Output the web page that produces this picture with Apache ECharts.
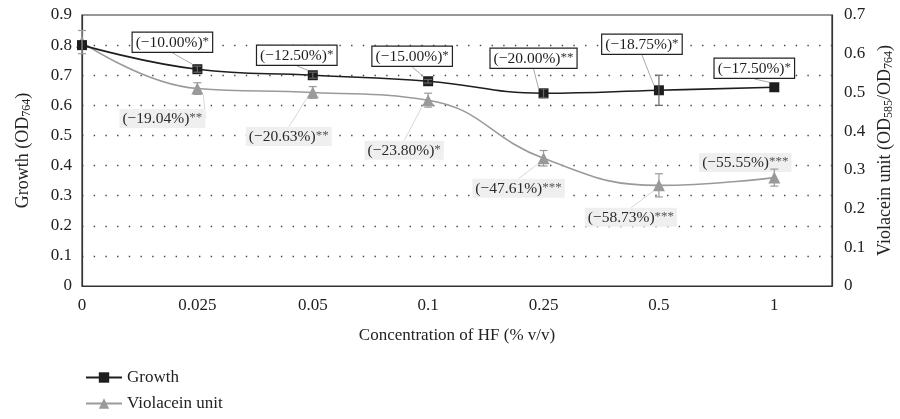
<!DOCTYPE html>
<html>
<head>
<meta charset="utf-8">
<script src="https://cdn.jsdelivr.net/npm/echarts@6/dist/echarts.min.js"></script>
<style>
  html, body { margin: 0; padding: 0; background: #fff; }
  #chart { width: 900px; height: 419px; }
</style>
</head>
<body>
<div id="chart"></div>
<script>
// HF concentration (% v/v)
const categories = ['0', '0.025', '0.05', '0.1', '0.25', '0.5', '1'];

// Growth (OD764), left axis
const growth = [0.80, 0.72, 0.70, 0.68, 0.64, 0.65, 0.66];
const growthErr = [0.0, 0.01, 0.01, 0.006, 0.015, 0.05, 0.0];
const growthPct = ['', '(\u221210.00%)', '(\u221212.50%)', '(\u221215.00%)', '(\u221220.00%)', '(\u221218.75%)', '(\u221217.50%)'];
const growthSig = ['', '*', '*', '*', '**', '*', '*'];

// Violacein unit (OD585/OD764), right axis
const violacein = [0.63, 0.51, 0.50, 0.48, 0.33, 0.26, 0.28];
const violaceinErr = [0.03, 0.015, 0.015, 0.018, 0.02, 0.03, 0.022];
const violaceinPct = ['', '(\u221219.04%)', '(\u221220.63%)', '(\u221223.80%)', '(\u221247.61%)', '(\u221258.73%)', '(\u221255.55%)'];
const violaceinSig = ['', '**', '**', '*', '***', '***', '***'];

// Tick labels
const leftTicks = [0, 0.1, 0.2, 0.3, 0.4, 0.5, 0.6, 0.7, 0.8, 0.9];
const rightTicks = [0, 0.1, 0.2, 0.3, 0.4, 0.5, 0.6, 0.7];

// label offsets from each point (px)
const growthShift = [[0, 0], [-25, -27], [-16, -20], [-16, -25], [-10, -35], [-17, -46], [-20, -19]];
const violaceinShift = [[0, 0], [-35, 30], [-24, 44], [-24, 50], [-25, 30], [-28, 32], [-29, -15]];

const FONT = '"Liberation Serif", "DejaVu Serif", serif';
const BLACK = '#1e1e1e';
const GREY = '#9a9a9a';

const pts = (vals) => vals.map((v, i) => [i, v]);
const bars = (vals, errs) => vals.map((v, i) => [i, v - errs[i], v + errs[i]]);

function errorBarRender(color) {
  return function (params, api) {
    const x = api.value(0);
    const lo = api.coord([x, api.value(1)]);
    const hi = api.coord([x, api.value(2)]);
    const w = 4;
    if (Math.abs(hi[1] - lo[1]) < 1) return null;
    const style = { stroke: color, lineWidth: 1.2 };
    return {
      type: 'group',
      children: [
        { type: 'line', shape: { x1: lo[0], y1: lo[1], x2: hi[0], y2: hi[1] }, style },
        { type: 'line', shape: { x1: lo[0] - w, y1: lo[1], x2: lo[0] + w, y2: lo[1] }, style },
        { type: 'line', shape: { x1: hi[0] - w, y1: hi[1], x2: hi[0] + w, y2: hi[1] }, style }
      ]
    };
  };
}

const chart = echarts.init(document.getElementById('chart'), null, { renderer: 'canvas' });

chart.setOption({
  animation: false,
  backgroundColor: '#fff',
  textStyle: { fontFamily: FONT },
  grid: {
    left: 82, right: 68, top: 15, bottom: 133,
    outerBoundsMode: 'none',
    containLabel: false,
    show: true, borderColor: '#333', borderWidth: 1.2
  },
  legend: {
    orient: 'vertical',
    left: 80,
    top: 364,
    itemWidth: 36,
    itemHeight: 13,
    itemGap: 9,
    textStyle: { fontFamily: FONT, fontSize: 17, color: '#222' },
    data: ['Growth', 'Violacein unit']
  },
  xAxis: {
    type: 'value',
    min: 0,
    max: 6.5,
    interval: 1,
    name: 'Concentration of HF (% v/v)',
    nameLocation: 'middle',
    nameGap: 41,
    nameTextStyle: { fontFamily: FONT, fontSize: 17, color: '#222' },
    axisLine: { lineStyle: { color: '#333', width: 1.2 } },
    axisTick: { show: false },
    splitLine: { show: false },
    axisLabel: {
      fontFamily: FONT, fontSize: 17, color: '#222', margin: 11,
      formatter: (v) => (Number.isInteger(v) && categories[v] !== undefined ? categories[v] : '')
    }
  },
  yAxis: [
    {
      type: 'value',
      min: 0,
      max: 0.9,
      interval: 0.1,
      name: '{t|Growth (OD}{sub|764}{t|)}',
      nameLocation: 'middle',
      nameGap: 49,
      nameTextStyle: {
        rich: {
          t: { fontFamily: FONT, fontSize: 18, color: '#222' },
          sub: { fontFamily: FONT, fontSize: 12, color: '#222', verticalAlign: 'bottom', padding: [7, 0, 0, 0] }
        }
      },
      axisLine: { show: true, lineStyle: { color: '#333', width: 1.2 } },
      axisTick: { show: false },
      axisLabel: {
        fontFamily: FONT, fontSize: 17, color: '#222', margin: 10,
        formatter: (v) => {
          const t = leftTicks.find((k) => Math.abs(k - v) < 1e-9);
          return t === undefined ? '' : String(t);
        }
      },
      splitLine: {
        show: true,
        showMinLine: false,
        showMaxLine: false,
        lineStyle: { color: '#444', type: [1.4, 10.3], width: 1.3 }
      }
    },
    {
      type: 'value',
      min: 0,
      max: 0.7,
      interval: 0.1,
      position: 'right',
      name: '{t|Violacein unit (OD}{sub|585}{t|/OD}{sub|764}{t|)}',
      nameLocation: 'middle',
      nameGap: 42,
      nameRotate: 90,
      nameTextStyle: {
        rich: {
          t: { fontFamily: FONT, fontSize: 18, color: '#222' },
          sub: { fontFamily: FONT, fontSize: 12, color: '#222', verticalAlign: 'bottom', padding: [7, 0, 0, 0] }
        }
      },
      axisLine: { show: true, lineStyle: { color: '#333', width: 1.2 } },
      axisTick: { show: false },
      axisLabel: {
        fontFamily: FONT, fontSize: 17, color: '#222', margin: 12,
        formatter: (v) => {
          const t = rightTicks.find((k) => Math.abs(k - v) < 1e-9);
          return t === undefined ? '' : String(t);
        }
      },
      splitLine: { show: false }
    }
  ],
  series: [
    {
      name: 'Violacein unit',
      type: 'line',
      yAxisIndex: 1,
      data: pts(violacein),
      smooth: 0.45,
      symbol: 'triangle',
      symbolSize: 12,
      z: 3,
      itemStyle: { color: GREY },
      lineStyle: { color: GREY, width: 1.6 },
      label: {
        show: true,
        position: 'inside',
        formatter: (p) => violaceinPct[p.dataIndex] ? '{t|' + violaceinPct[p.dataIndex] + '}{s|' + violaceinSig[p.dataIndex] + '}' : '',
        backgroundColor: '#efeff0',
        padding: [2, 3, 1, 3],
        rich: {
          t: { fontFamily: FONT, fontSize: 15.5, color: '#2a2a2a' },
          s: { fontFamily: FONT, fontSize: 13, color: '#555', verticalAlign: 'top' }
        }
      },
      labelLayout: (p) => ({ dx: violaceinShift[p.dataIndex][0], dy: violaceinShift[p.dataIndex][1] }),
      labelLine: { show: true, lineStyle: { color: '#d8d8d8', width: 1 } }
    },
    {
      name: 'Growth',
      type: 'line',
      yAxisIndex: 0,
      data: pts(growth),
      smooth: 0.45,
      symbol: 'rect',
      symbolSize: 10,
      z: 4,
      itemStyle: { color: BLACK },
      lineStyle: { color: BLACK, width: 1.6 },
      label: {
        show: true,
        position: 'inside',
        formatter: (p) => growthPct[p.dataIndex] ? '{t|' + growthPct[p.dataIndex] + '}{s|' + growthSig[p.dataIndex] + '}' : '',
        backgroundColor: '#fff',
        borderColor: '#222',
        borderWidth: 1.2,
        padding: [2, 3, 1, 3],
        rich: {
          t: { fontFamily: FONT, fontSize: 15.5, color: '#1e1e1e' },
          s: { fontFamily: FONT, fontSize: 13, color: '#333', verticalAlign: 'top' }
        }
      },
      labelLayout: (p) => ({ dx: growthShift[p.dataIndex][0], dy: growthShift[p.dataIndex][1] }),
      labelLine: { show: true, lineStyle: { color: '#aaa', width: 1 } }
    },
    {
      type: 'custom',
      name: 'violacein-err',
      yAxisIndex: 1,
      z: 5,
      data: bars(violacein, violaceinErr),
      renderItem: errorBarRender(GREY),
      encode: { x: 0, y: [1, 2] },
      silent: true
    },
    {
      type: 'custom',
      name: 'growth-err',
      yAxisIndex: 0,
      z: 5,
      data: bars(growth, growthErr),
      renderItem: errorBarRender('#666'),
      encode: { x: 0, y: [1, 2] },
      silent: true
    }
  ]
});
</script>
</body>
</html>
